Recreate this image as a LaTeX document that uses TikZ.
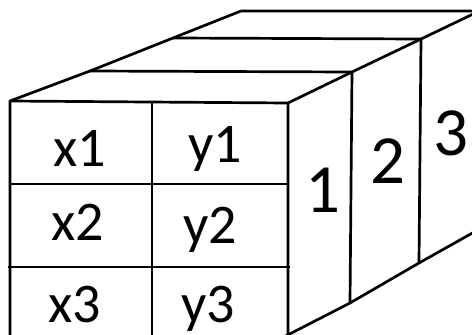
\documentclass[tikz,border=0pt]{standalone}
\usepackage{fontspec}
\setmainfont{Carlito}
\begin{document}
\begin{tikzpicture}[x=1pt,y=-1pt,
  edge/.style={line width=2.7pt,line join=round,black},
  cell/.style={anchor=base,inner sep=0pt,font=\fontsize{56}{56}\selectfont},
  side/.style={anchor=base,inner sep=0pt,font=\fontsize{69}{69}\selectfont}]
\useasboundingbox (0,0) rectangle (472,335);
\clip (0,0) rectangle (472,335);
\fill[white] (0,0) rectangle (472,335);
% front face
\draw[edge] (10,345) -- (10,101) -- (288,103) -- (288,345);
\draw[edge] (152,101) -- (152,345);
\draw[edge] (10,184) -- (288,184);
\draw[edge] (8,267) -- (290,267);
% top face
\draw[edge] (10,101) -- (90,71) -- (173,38) -- (241,11) -- (480,11);
\draw[edge] (288,103) -- (352,72) -- (421,39) -- (492,5);
\draw[edge] (90,71) -- (352,72);
\draw[edge] (173,38) -- (421,39);
% side slices
\draw[edge] (352,72) -- (350,303);
\draw[edge] (421,39) -- (419,263);
\draw[edge] (276,341) -- (350,303) -- (419,263) -- (492,222);
% labels
\node[cell] (x1) at (80,166) {x1};
\node[cell] (x2) at (78,240) {x2};
\node[cell] (x3) at (75,322) {x3};
\node[cell] (y1) at (215,162) {y1};
\node[cell] (y2) at (210,243) {y2};
\node[cell] (y3) at (208,322) {y3};
\node[side] (s1) at (323,212) {1};
\node[side] (s2) at (388,183) {2};
\node[side] (s3) at (451,155) {3};
\end{tikzpicture}
\end{document}
